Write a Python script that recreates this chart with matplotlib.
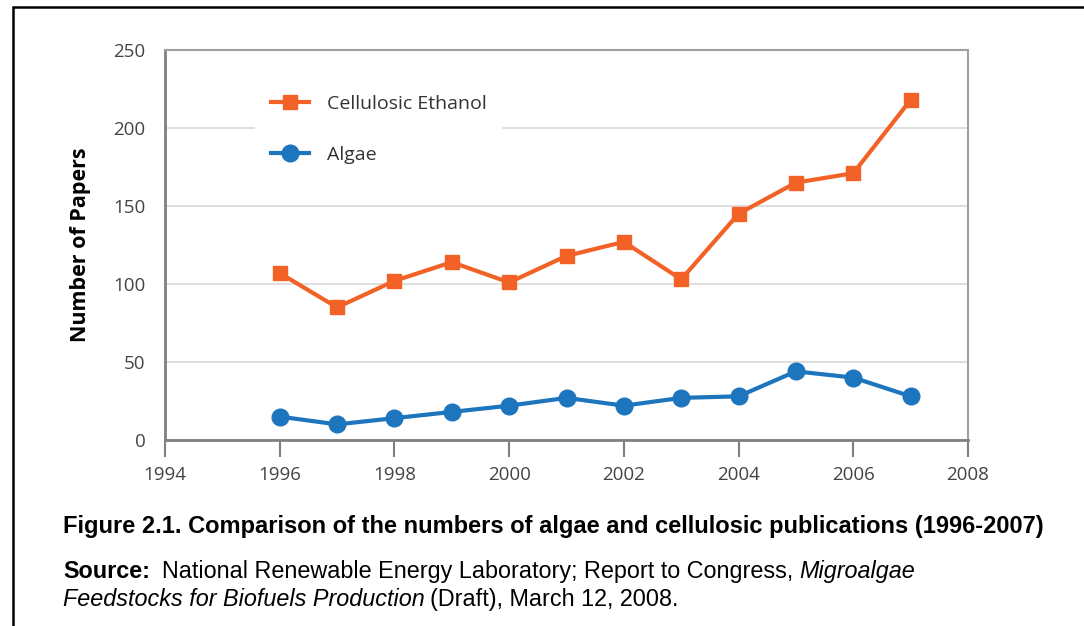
import matplotlib
matplotlib.use('Agg')
import matplotlib.pyplot as plt
from matplotlib.patches import Rectangle

years = [1996, 1997, 1998, 1999, 2000, 2001, 2002, 2003, 2004, 2005, 2006, 2007]
ethanol = [107, 85, 102, 114, 101, 118, 127, 103, 145, 165, 171, 218]
algae = [15, 10, 14, 18, 22, 27, 22, 27, 28, 44, 40, 28]

x_ticks = [1994, 1996, 1998, 2000, 2002, 2004, 2006, 2008]
y_ticks = [0, 50, 100, 150, 200, 250]

orange = '#f26226'
blue = '#1d75bd'
axis_font = 'Open Sans'
cap_font = 'Liberation Sans'

fig = plt.figure(figsize=(10.84, 6.26), dpi=100)
ax = fig.add_axes([165/1084, 1 - 440/626, 803/1084, 390/626])

ax.plot(years, ethanol, color=orange, lw=3, marker='s', ms=10, label='Cellulosic Ethanol')
ax.plot(years, algae, color=blue, lw=3, marker='o', ms=12, label='Algae')

ax.set_xlim(1994, 2008)
ax.set_ylim(0, 250)
ax.set_xticks(x_ticks)
ax.set_yticks(y_ticks)
ax.grid(axis='y', color='#dcdcdc', lw=1.3)
ax.set_axisbelow(True)

for s in ['top', 'right']:
    ax.spines[s].set_color('#a0a0a0')
    ax.spines[s].set_linewidth(1.5)
for s in ['left', 'bottom']:
    ax.spines[s].set_color('#808080')
    ax.spines[s].set_linewidth(2)

ax.tick_params(axis='x', direction='out', length=12, width=1.5, color='#808080',
               labelsize=13.5, labelcolor='#444444', pad=7)
ax.tick_params(axis='y', length=0, labelsize=13.5, labelcolor='#444444', pad=14)
for lab in ax.get_xticklabels() + ax.get_yticklabels():
    lab.set_family(axis_font)

ax.set_ylabel('Number of Papers', fontsize=15.5, fontweight='bold', family=axis_font, labelpad=16)

leg = ax.legend(loc='upper left', bbox_to_anchor=(0.1, 0.95), frameon=True, fancybox=False,
                edgecolor='none', facecolor='white', framealpha=1,
                handlelength=2.0, labelspacing=1.7, borderpad=0.8, handletextpad=0.9,
                prop={'family': axis_font, 'size': 14})
for t in leg.get_texts():
    t.set_color('#333333')

# caption
fig.text(63/1084, 1 - 533/626,
         'Figure 2.1. Comparison of the numbers of algae and cellulosic publications (1996-2007)',
         fontsize=17, fontweight='bold', family=cap_font, va='baseline')

fig.canvas.draw()
r = fig.canvas.get_renderer()
fs = 16.8
y1 = 1 - 578/626
y2 = 1 - 606/626
t1 = fig.text(63/1084, y1, 'Source:', fontsize=fs, fontweight='bold',
              family=cap_font, va='baseline')
bb = t1.get_window_extent(r)
t2 = fig.text((bb.x1 + 12) / 1084, y1,
              'National Renewable Energy Laboratory; Report to Congress, ',
              fontsize=fs, family=cap_font, va='baseline')
bb2 = t2.get_window_extent(r)
fig.text(bb2.x1 / 1084, y1, 'Migroalgae', fontsize=fs, style='italic',
         family=cap_font, va='baseline')
t4 = fig.text(63/1084, y2, 'Feedstocks for Biofuels Production', fontsize=fs,
              style='italic', family=cap_font, va='baseline')
bb4 = t4.get_window_extent(r)
fig.text((bb4.x1 + 5) / 1084, y2, '(Draft), March 12, 2008.', fontsize=fs,
         family=cap_font, va='baseline')

# outer frame
fig.patches.append(Rectangle((13/1084, -0.05), 1.2, 1 - 7/626 + 0.05, transform=fig.transFigure,
                             fill=False, edgecolor='black', lw=1.8))

fig.savefig('out.png', dpi=100)
